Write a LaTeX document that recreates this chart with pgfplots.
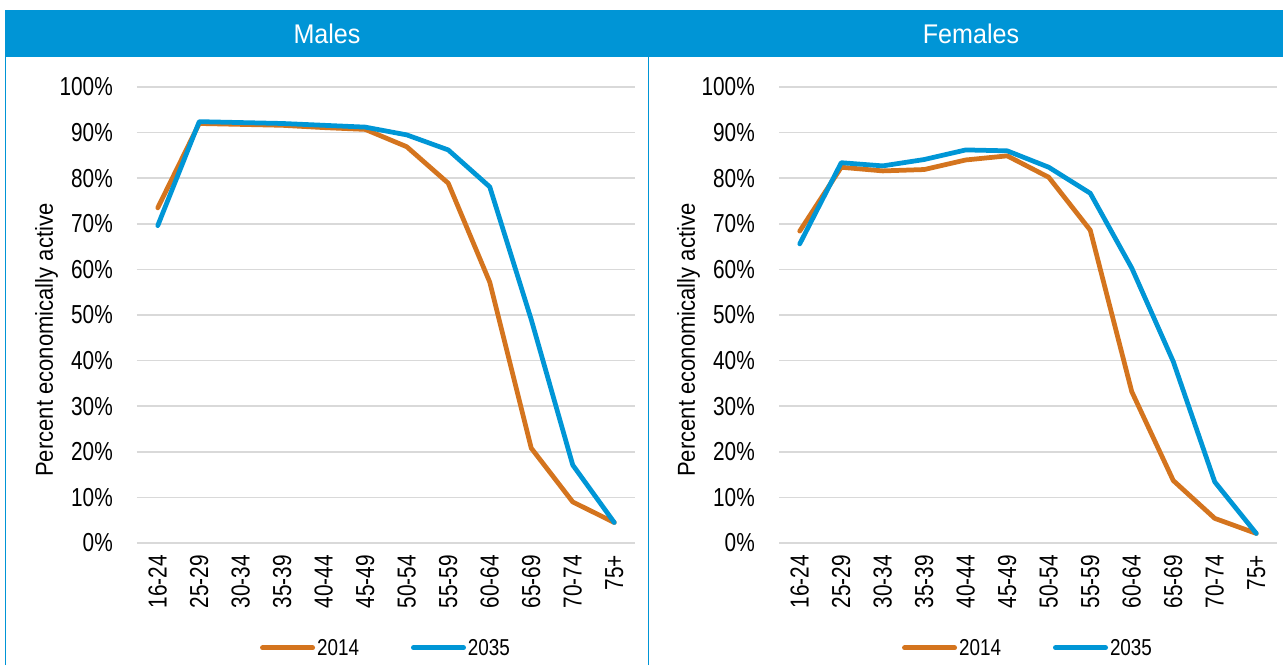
\documentclass[border=0pt]{standalone}
\usepackage{pgfplots}
\pgfplotsset{compat=1.18}
\usepackage{fontspec}
\setmainfont{Liberation Sans}
\newfontfamily\tickf{Liberation Sans}[FakeStretch=0.8]
\newfontfamily\legf{Liberation Sans}[FakeStretch=0.82]
\newfontfamily\labf{Liberation Sans}[FakeStretch=0.9]
\newfontfamily\titf{Liberation Sans}[FakeStretch=0.93]

\definecolor{hblue}{RGB}{0,149,214}
\definecolor{c14}{RGB}{212,116,30}
\definecolor{c35}{RGB}{0,150,214}
\definecolor{gridgray}{RGB}{217,217,217}

\pgfplotsset{
    panel/.style={
        scale only axis,
        width=498pt, height=456pt,
        anchor=south west,
        xmin=-0.5, xmax=11.5,
        ymin=0, ymax=100,
        axis line style={draw=none},
        major tick length=0pt,
        ytick={0,10,...,100},
        yticklabels={0\%,10\%,20\%,30\%,40\%,50\%,60\%,70\%,80\%,90\%,100\%},
        xtick={0,...,11},
        xticklabels={16-24,25-29,30-34,35-39,40-44,45-49,50-54,55-59,60-64,65-69,70-74,75+},
        ymajorgrids,
        grid style={line width=1.5pt, gridgray},
        tick label style={font=\tickf\fontsize{26}{28}\selectfont},
        yticklabel style={anchor=east, inner sep=0pt},
        yticklabel shift=24pt,
        xticklabel style={rotate=90, anchor=east, inner sep=0pt},
        xticklabel shift=12pt,
        ylabel={Percent economically active},
        ylabel style={font=\labf\fontsize{24.5}{26}\selectfont,
            at={(axis description cs:-0.1687,0.445)}, anchor=base},
        legend columns=2,
        legend style={at={(axis description cs:0.5,-0.230)}, anchor=center,
            draw=none, fill=none,
            font=\legf\fontsize{23}{25}\selectfont,
            nodes={inner sep=2pt},
            /tikz/every even column/.append style={column sep=50pt}},
        legend image code/.code={\draw[#1, line width=5pt, line cap=round] (0pt,0pt) -- (50pt,0pt);},
        every axis plot/.append style={line width=4.75pt, line cap=round, line join=round, mark=none},
    }
}

\begin{document}
\begin{tikzpicture}
\useasboundingbox (0pt,0pt) rectangle (1283pt,665pt);
\fill[white] (0pt,0pt) rectangle (1283pt,665pt);
% header bar and panel frame
\fill[hblue] (5pt,608pt) rectangle (1283pt,655pt);
\draw[hblue, line width=1.3pt] (5.6pt,0pt) -- (5.6pt,608pt);
\draw[hblue, line width=1.3pt] (648.6pt,0pt) -- (648.6pt,608pt);
\node[text=white, font=\titf\fontsize{27}{30}\selectfont, anchor=base] at (327pt,621.3pt) {Males};
\node[text=white, font=\titf\fontsize{27}{30}\selectfont, anchor=base] at (971pt,621.3pt) {Females};

% Males
\begin{axis}[panel, at={(137pt,122pt)}]
\addplot[c14] coordinates {(0,73.5) (1,92.0) (2,91.8) (3,91.6) (4,91.1) (5,90.7) (6,86.9) (7,78.9) (8,57.2) (9,20.8) (10,9.0) (11,4.5)};
\addlegendentry{2014}
\addplot[c35] coordinates {(0,69.6) (1,92.4) (2,92.2) (3,92.0) (4,91.6) (5,91.2) (6,89.5) (7,86.2) (8,78.1) (9,49.0) (10,17.1) (11,4.5)};
\addlegendentry{2035}
\end{axis}

% Females
\begin{axis}[panel, at={(779pt,122pt)}]
\addplot[c14] coordinates {(0,68.4) (1,82.4) (2,81.6) (3,81.9) (4,84.0) (5,84.9) (6,80.2) (7,68.6) (8,33.2) (9,13.7) (10,5.4) (11,2.1)};
\addlegendentry{2014}
\addplot[c35] coordinates {(0,65.6) (1,83.4) (2,82.7) (3,84.1) (4,86.2) (5,86.0) (6,82.4) (7,76.7) (8,60.3) (9,39.8) (10,13.4) (11,2.1)};
\addlegendentry{2035}
\end{axis}
\end{tikzpicture}
\end{document}
